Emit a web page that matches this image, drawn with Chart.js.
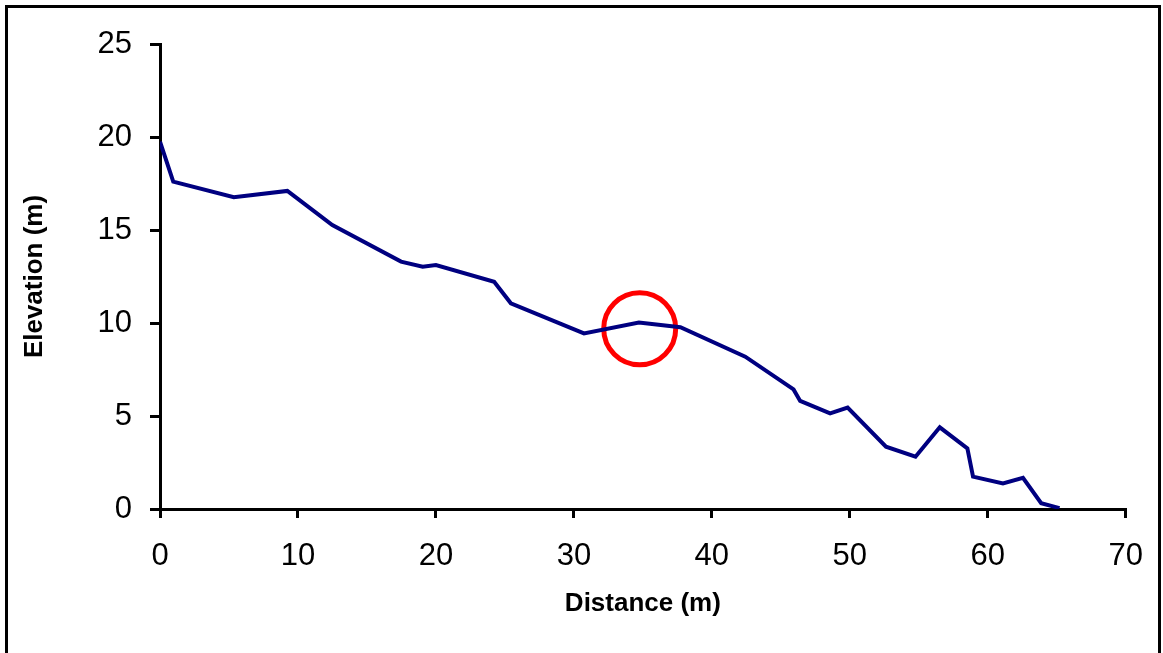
<!DOCTYPE html>
<html>
<head>
<meta charset="utf-8">
<title>Elevation profile</title>
<script src="https://cdn.jsdelivr.net/npm/chart.js@4/dist/chart.umd.min.js"></script>
<style>
  html, body { margin: 0; padding: 0; background: #fff; overflow: hidden; }
  #frame {
    position: absolute; left: 5px; top: 5px; width: 1150px; height: 700px;
    border: 3px solid #000; border-bottom: none; pointer-events: none;
  }
  #chart { position: absolute; left: 0; top: 0; }
</style>
</head>
<body>
<div id="frame"></div>
<canvas id="chart" width="1163" height="653"></canvas>
<script>
// survey profile: distance along the transect and ground elevation
var distance = [0, 0.96, 5.35, 9.23, 12.49, 17.47, 19.04, 20.0, 24.22, 25.43,
                30.73, 34.71, 37.72, 42.42, 45.92, 46.4, 48.57, 49.84, 52.62, 54.76,
                56.52, 58.52, 58.93, 61.1, 62.55, 63.87, 65.2];
var elevation = [19.75, 17.6, 16.76, 17.1, 15.27, 13.3, 13.03, 13.12, 12.22, 11.06,
                 9.44, 10.02, 9.77, 8.19, 6.43, 5.81, 5.14, 5.45, 3.35, 2.81,
                 4.39, 3.26, 1.74, 1.38, 1.68, 0.31, 0.05];

// marker around the small rise
var markX = [34.77];
var markY = [9.69];

var xTicks = [0, 10, 20, 30, 40, 50, 60, 70];
var yTicks = [0, 5, 10, 15, 20, 25];

var profile = distance.map(function (d, i) { return { x: d, y: elevation[i] }; });
var mark = markX.map(function (d, i) { return { x: d, y: markY[i] }; });

var ctx = document.getElementById("chart").getContext("2d");

var axisFont = { family: "'Liberation Sans', Arial, sans-serif", size: 31 };
var titleFont = { family: "'Liberation Sans', Arial, sans-serif", size: 26, weight: "bold" };

var chart = new Chart(ctx, {
    type: "line",
    data: {
        datasets: [{
            data: profile,
            borderColor: "#000080",
            borderWidth: 4,
            pointRadius: 0,
            tension: 0,
            fill: false
        }, {
            data: mark,
            showLine: false,
            pointRadius: 36,
            pointHoverRadius: 36,
            pointBorderWidth: 5,
            pointBorderColor: "#ff0000",
            pointBackgroundColor: "rgba(0,0,0,0)",
            clip: false
        }]
    },
    options: {
        responsive: false,
        animation: false,
        layout: { autoPadding: false, padding: { top: 44, right: 33, bottom: 0, left: 0 } },
        plugins: { legend: { display: false }, tooltip: { enabled: false } },
        scales: {
            x: {
                type: "linear",
                min: 0, max: 70,
                afterBuildTicks: function (s) { s.ticks = xTicks.map(function (v) { return { value: v }; }); },
                afterFit: function (s) { s.height = 144; },
                grid: { drawOnChartArea: false, color: "#000", lineWidth: 3, tickLength: 9 },
                border: { color: "#000", width: 3 },
                ticks: { color: "#000", font: axisFont, padding: 20, maxRotation: 0 },
                title: { display: true, text: "Distance (m)", color: "#000", font: titleFont,
                         padding: { top: 0, bottom: 34 } }
            },
            y: {
                min: 0, max: 25,
                afterBuildTicks: function (s) { s.ticks = yTicks.map(function (v) { return { value: v }; }); },
                afterFit: function (s) { s.width = 160; },
                grid: { drawOnChartArea: false, color: "#000", lineWidth: 3, tickLength: 10 },
                border: { color: "#000", width: 3 },
                ticks: { color: "#000", font: axisFont, padding: 18 },
                title: { display: true, text: "Elevation (m)", color: "#000", font: titleFont,
                         padding: { top: 19, bottom: 0 } }
            }
        }
    }
});
</script>
</body>
</html>
